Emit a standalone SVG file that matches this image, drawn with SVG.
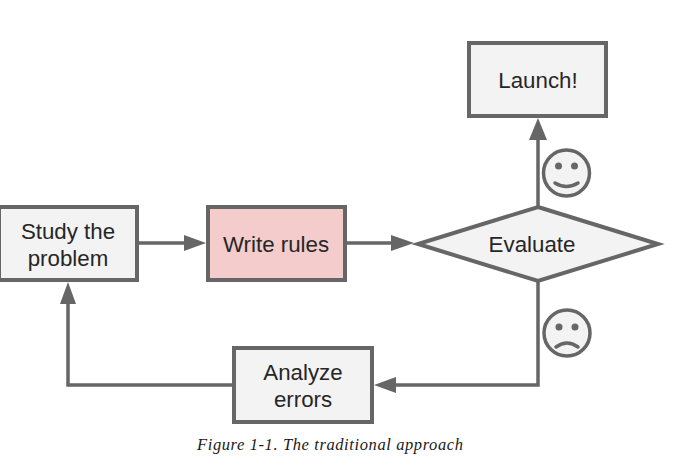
<svg xmlns="http://www.w3.org/2000/svg" width="684" height="471" viewBox="0 0 684 471">
<style>
.box{fill:#f3f3f3;stroke:#666;stroke-width:4}
.pink{fill:#f4cccc}
.t{font-family:"Liberation Sans",Arial,sans-serif;font-size:22.300px;fill:#262626;text-anchor:middle}
.c{fill:none;stroke:#666;stroke-width:3.500}
.ar{fill:#666;stroke:none}
.face{fill:#f3f3f3;stroke:#666;stroke-width:3.500}
.eye{fill:#666}
.m{fill:none;stroke:#666;stroke-width:3.500;stroke-linecap:round}
.cap{font-family:"Liberation Serif","Times New Roman",serif;font-size:16.500px;font-style:italic;fill:#1a1a1a}
</style>
<rect width="684" height="471" fill="#fff"/>
<g id="connectors">
<path class="c" d="M138 243H186"/><polygon class="ar" points="184,235 206,243 184,251"/>
<path class="c" d="M345 243H393"/><polygon class="ar" points="391,235 414,243 391,251"/>
<path class="c" d="M538 207V138"/><polygon class="ar" points="538,118 547,140 529,140"/>
<path class="c" d="M538 281V385H395"/><polygon class="ar" points="374,385 396,377 396,393"/>
<path class="c" d="M233 385H68V302"/><polygon class="ar" points="68,282 76,304 60,304"/>
</g>
<g id="study"><rect class="box" x="-1" y="207" width="138" height="73"/><text class="t" x="68" y="239">Study the</text><text class="t" x="68" y="266">problem</text></g>
<g id="write"><rect class="box pink" x="208" y="207" width="137" height="73"/><text class="t" x="276" y="252">Write rules</text></g>
<g id="launch"><rect class="box" x="469" y="43" width="137" height="73"/><text class="t" x="538" y="88">Launch!</text></g>
<g id="evaluate"><polygon class="box" points="538,207 658,244 538,281 418,244"/><text class="t" x="532" y="252">Evaluate</text></g>
<g id="analyze"><rect class="box" x="234" y="348" width="138" height="74"/><text class="t" x="303" y="380">Analyze</text><text class="t" x="303" y="407">errors</text></g>
<g id="happy"><circle class="face" cx="566.500" cy="173" r="23"/><circle class="eye" cx="558.500" cy="166" r="3.500"/><circle class="eye" cx="574.500" cy="166" r="3.500"/><path class="m" d="M555 183Q566.500 190 578 183"/></g>
<g id="sad"><circle class="face" cx="567" cy="333" r="23"/><circle class="eye" cx="559" cy="327" r="3.500"/><circle class="eye" cx="575" cy="327" r="3.500"/><path class="m" d="M556 347Q567 339 578 347"/></g>
<text id="caption" class="cap" x="197" y="450" textLength="266" lengthAdjust="spacing">Figure 1-1. The traditional approach</text>
</svg>
